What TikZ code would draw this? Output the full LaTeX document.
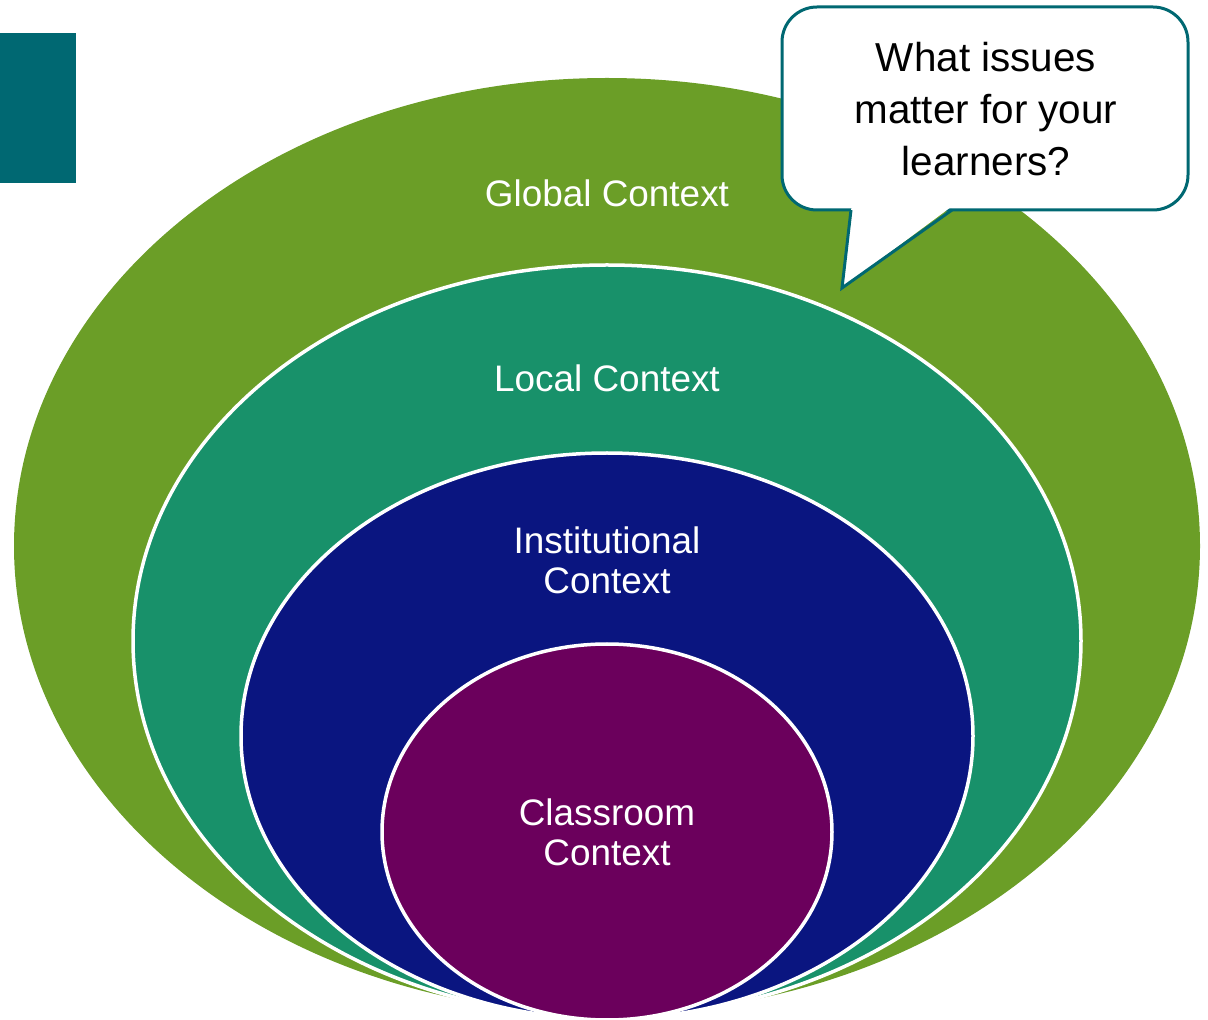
\documentclass[tikz,border=0pt]{standalone}
\usepackage{fontspec}
\setmainfont{Liberation Sans}
\definecolor{globalgreen}{HTML}{6B9E27}
\definecolor{localgreen}{HTML}{18916A}
\definecolor{instnavy}{HTML}{0A1580}
\definecolor{classplum}{HTML}{6B005C}
\definecolor{slideteal}{HTML}{006872}

\begin{document}
\begin{tikzpicture}[
        x=0.02cm, y=-0.02cm,
        ring/.style={
            draw=white,
            line width=3.5*0.02cm,
        },
        ringlabel/.style={
            text=white,
            align=center,
            font=\fontsize{21}{22.7}\selectfont,
        },
        bubble/.style={
            draw=slideteal,
            fill=white,
            line width=3*0.02cm,
            line join=miter,
        },
    ]
    \useasboundingbox (0,0) rectangle (1208,1020);
    % corner bar of the slide
    \fill[slideteal] (0,33) rectangle (76,183);
    % the nested contexts, outside in
    \fill[globalgreen] (607,546) ellipse [x radius=593, y radius=468];
    \foreach \cy/\rx/\ry/\col in {641/474/376/localgreen,
                                  736/366/283/instnavy,
                                  832/225/188/classplum}{
        \filldraw[ring,fill=\col] (607,\cy) ellipse [x radius=\rx, y radius=\ry];
    }
    \node[ringlabel] (global) at (607,193) {Global Context};
    \node[ringlabel] (local) at (607,378) {Local Context};
    \node[ringlabel] (institutional) at (607,560) {Institutional\\Context};
    \node[ringlabel] (classroom) at (607,832) {Classroom\\Context};
    % speech bubble
    \draw[bubble,rounded corners=0.7cm] (782,7) rectangle (1188,210);
    \fill[white] (851.5,207) -- (842,288) -- (951,207) -- cycle;
    \draw[bubble,fill=none] (851,210) -- (842,288) -- (952,210);
    \node[align=center,font=\fontsize{23}{29.5}\selectfont] (question) at (986,109)
        {What issues\\matter for your\\learners?};
\end{tikzpicture}
\end{document}
